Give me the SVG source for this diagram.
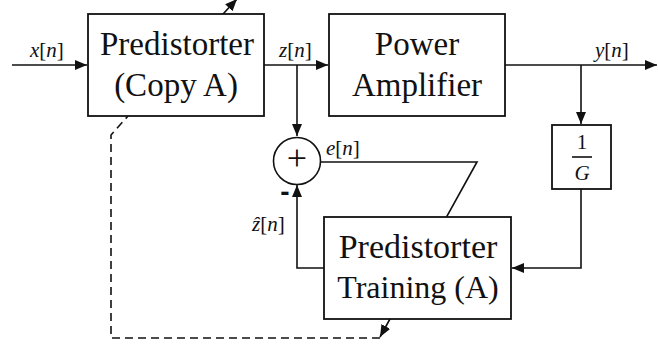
<svg xmlns="http://www.w3.org/2000/svg" width="658" height="349" viewBox="0 0 658 349">
<style>
.box{fill:#fff;stroke:#111;stroke-width:1.8}
.ln{fill:none;stroke:#111;stroke-width:1.6}
.dash{fill:none;stroke:#111;stroke-width:1.6;stroke-dasharray:8,5}
text{font-family:'Liberation Serif','Times New Roman',serif;fill:#111}
.big{font-size:33px;text-anchor:middle}
.lab{font-size:21px}
.it{font-style:italic}
</style>
<defs>
<marker id="ah" markerUnits="userSpaceOnUse" markerWidth="13" markerHeight="11" refX="12" refY="5" orient="auto">
<path d="M0,0 L12,5 L0,10 z" fill="#111"/>
</marker>
</defs>
<rect width="658" height="349" fill="#fff"/>
<g id="connectors">
<path class="ln" d="M12,65 H87" marker-end="url(#ah)"/>
<path class="ln" d="M264,65 H328" marker-end="url(#ah)"/>
<path class="ln" d="M297,65 V136" marker-end="url(#ah)"/>
<path class="ln" d="M505,65 H657" marker-end="url(#ah)"/>
<path class="ln" d="M581,65 V124" marker-end="url(#ah)"/>
<path class="ln" d="M581,189 V268 H512" marker-end="url(#ah)"/>
<path class="ln" d="M324,268 H297 V185" marker-end="url(#ah)"/>
<path class="ln" d="M320,162 H477 L380,337" marker-end="url(#ah)"/>
<path class="dash" d="M380,338 H111 V135 L128,116"/>
<path class="ln" d="M128,116 L237,-1" marker-end="url(#ah)"/>
</g>
<g id="predistorter-copy">
<rect class="box" x="88" y="14" width="176" height="102"/>
<text class="big" x="177" y="55" font-size="34">Predistorter</text>
<text class="big" x="176" y="96">(Copy A)</text>
</g>
<g id="power-amplifier">
<rect class="box" x="329" y="14" width="176" height="102"/>
<text class="big" x="417" y="55">Power</text>
<text class="big" x="417" y="96">Amplifier</text>
</g>
<g id="gain">
<rect class="box" x="552" y="125" width="59" height="64"/>
<text class="lab" x="582" y="149" text-anchor="middle">1</text>
<line class="ln" x1="572" y1="157" x2="592" y2="157"/>
<text class="lab it" x="582" y="180" text-anchor="middle">G</text>
</g>
<g id="training">
<rect class="box" x="324" y="217" width="187" height="102"/>
<text class="big" x="418" y="258" style="font-size:34px">Predistorter</text>
<text class="big" x="418" y="298" style="font-size:32px">Training (A)</text>
</g>
<g id="summer">
<circle cx="297" cy="161" r="23.5" fill="#fff" stroke="#111" stroke-width="1.6"/>
<text x="297" y="170" font-size="36" text-anchor="middle">+</text>
<text x="285" y="201" style="font-family:'Liberation Sans',sans-serif" font-weight="bold" font-size="28" text-anchor="middle">-</text>
</g>
<g id="labels">
<text class="lab" x="30" y="57"><tspan class="it">x</tspan>[<tspan class="it">n</tspan>]</text>
<text class="lab" x="279" y="57"><tspan class="it">z</tspan>[<tspan class="it">n</tspan>]</text>
<text class="lab" x="595" y="57"><tspan class="it">y</tspan>[<tspan class="it">n</tspan>]</text>
<text class="lab" x="326" y="155"><tspan class="it">e</tspan>[<tspan class="it">n</tspan>]</text>
<text class="lab" x="252" y="231"><tspan class="it">ẑ</tspan>[<tspan class="it">n</tspan>]</text>
</g>
</svg>
